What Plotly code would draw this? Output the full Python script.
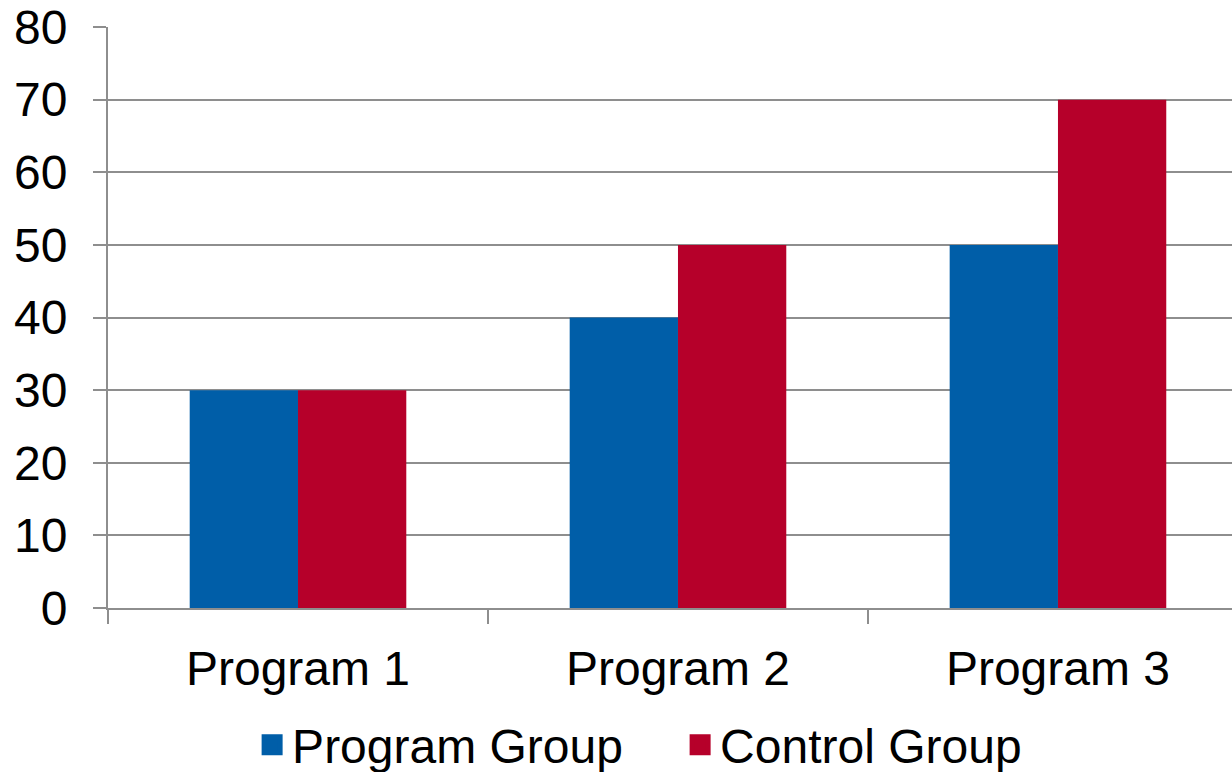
import plotly.graph_objects as go

categories = ["Program 1", "Program 2", "Program 3"]
program_group = [30, 40, 50]
control_group = [30, 50, 70]
series_names = ["Program Group", "Control Group"]
y_ticks = [0, 10, 20, 30, 40, 50, 60, 70, 80]

BLUE = "#005EA8"
RED = "#B6002A"
FONT = "Liberation Sans, Arial, sans-serif"
GRID = "#8E8E8E"
FS = 48

fig = go.Figure()
fig.add_trace(go.Bar(x=categories, y=program_group, name=series_names[0],
                     marker=dict(color=BLUE, line=dict(width=0)), showlegend=False))
fig.add_trace(go.Bar(x=categories, y=control_group, name=series_names[1],
                     marker=dict(color=RED, line=dict(width=0)), showlegend=False))
# legend entries with larger square symbols
for nm, col in zip(series_names, [BLUE, RED]):
    fig.add_trace(go.Scatter(x=[None], y=[None], mode="markers", name=nm,
                             marker=dict(symbol="square", size=16, color=col,
                                         line=dict(color=col, width=12))))

fig.update_layout(
    width=1232, height=772,
    margin=dict(l=108, r=0, t=27, b=164, autoexpand=False),
    paper_bgcolor="white", plot_bgcolor="white",
    font=dict(family=FONT, size=FS, color="black"),
    barmode="group", bargap=0.43, bargroupgap=0,
    showlegend=True,
    legend=dict(orientation="h", x=0.509, xanchor="center",
                yref="container", y=0.035, yanchor="middle",
                font=dict(size=FS), itemsizing="trace", traceorder="normal",
                entrywidth=383, entrywidthmode="pixels"),
    xaxis=dict(type="category", range=[-0.5, 2.458], showgrid=False, automargin=False,
               showline=True, linecolor=GRID, linewidth=2,
               ticks="outside", tickson="boundaries", ticklen=14, tickcolor=GRID, tickwidth=2,
               ticklabelstandoff=17, tickfont=dict(size=FS)),
    yaxis=dict(range=[0, 80], tickvals=y_ticks, showgrid=True, gridcolor=GRID, gridwidth=2,
               automargin=False,
               showline=True, linecolor=GRID, linewidth=2, zeroline=False,
               ticks="outside", ticklen=13, tickcolor=GRID, tickwidth=2,
               ticklabelstandoff=16, tickfont=dict(size=FS)),
)

fig.write_html("out.html")
